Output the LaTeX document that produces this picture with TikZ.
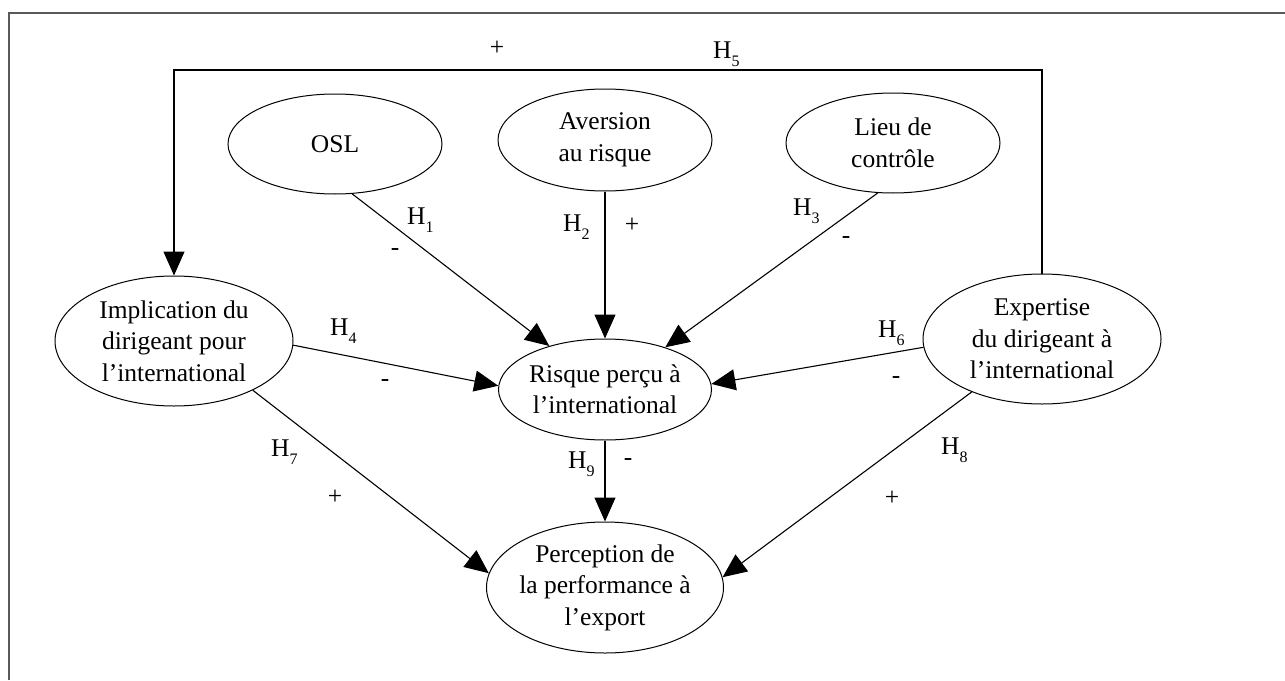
\documentclass[tikz,border=0pt]{standalone}
\usepackage{fontspec}
\setmainfont{Liberation Serif}
\usetikzlibrary{arrows.meta,shapes.geometric}
\newcommand{\Hsub}[1]{H\raisebox{-8pt}{\fontsize{16}{16}\selectfont #1}}
\begin{document}
\begin{tikzpicture}[x=1pt,y=-1pt,
  ell/.style={ellipse, draw, line width=1pt, inner xsep=-5pt, inner ysep=0pt, align=center,
    font=\fontsize{25.5}{31.5}\selectfont},
  arr/.style={-{Triangle[length=24pt,width=21pt]}, line width=1.1pt},
  lab/.style={inner sep=0pt, font=\fontsize{25.5}{30}\selectfont},
  frame/.style={line width=1.5pt, draw=black!65}]
\useasboundingbox (0,0) rectangle (1285,680);
\draw[frame] (9,680) -- (9,13) -- (1285,13);

\node[ell, minimum width=214pt, minimum height=100pt] (osl) at (335,144) {OSL};
\node[ell, minimum width=214pt, minimum height=102pt] (aver) at (605,140) {Aversion\\au risque};
\node[ell, minimum width=214pt, minimum height=100pt] (lieu) at (893,143) {Lieu de\\contrôle};
\node[ell, minimum width=238pt, minimum height=130pt] (impl) at (174,341) {Implication du\\dirigeant pour\\l’international};
\node[ell, minimum width=238pt, minimum height=130pt] (expe) at (1042,339) {Expertise\\du dirigeant à\\l’international};
\node[ell, minimum width=213pt, minimum height=101pt] (risk) at (605,389.5) {Risque perçu à\\l’international};
\node[ell, minimum width=237pt, minimum height=131pt] (perc) at (605,587.5) {Perception de\\la performance à\\l’export};

\coordinate (topline) at (600,70);
\draw[arr] (expe.north) |- (topline) -| (impl.north);
\draw[arr] (osl.-71.2) -- (risk.142.8);
\draw[arr] (aver.south) -- (risk.north);
\draw[arr] (lieu.-107.4) -- (risk.35.1);
\draw[arr] (impl.-2.4) -- (risk.178.6);
\draw[arr] (expe.-176.2) -- (risk.3.4);
\draw[arr] (impl.-32.2) -- (perc.173.9);
\draw[arr] (expe.-143.1) -- (perc.5.1);
\draw[arr] (risk.south) -- (perc.north);

\node[lab] (p5) at (497,48) {+};
\node[lab, anchor=base west] (h5) at (713,58) {\Hsub{5}};
\node[lab, anchor=base west] (h1) at (407,224) {\Hsub{1}};
\node[lab] (m1) at (395,252) {-};
\node[lab, anchor=base west] (h2) at (563,231) {\Hsub{2}};
\node[lab] (p2) at (632,225) {+};
\node[lab, anchor=base west] (h3) at (793,215) {\Hsub{3}};
\node[lab] (m3) at (846,240) {-};
\node[lab, anchor=base west] (h4) at (330,335) {\Hsub{4}};
\node[lab] (m4) at (385,383) {-};
\node[lab, anchor=base west] (h6) at (878,337) {\Hsub{6}};
\node[lab] (m6) at (896,380) {-};
\node[lab, anchor=base west] (h7) at (271,456) {\Hsub{7}};
\node[lab] (p7) at (335,497) {+};
\node[lab, anchor=base west] (h8) at (941,454) {\Hsub{8}};
\node[lab] (p8) at (892,498) {+};
\node[lab, anchor=base west] (h9) at (568,468) {\Hsub{9}};
\node[lab] (m9) at (628,462) {-};
\end{tikzpicture}
\end{document}
